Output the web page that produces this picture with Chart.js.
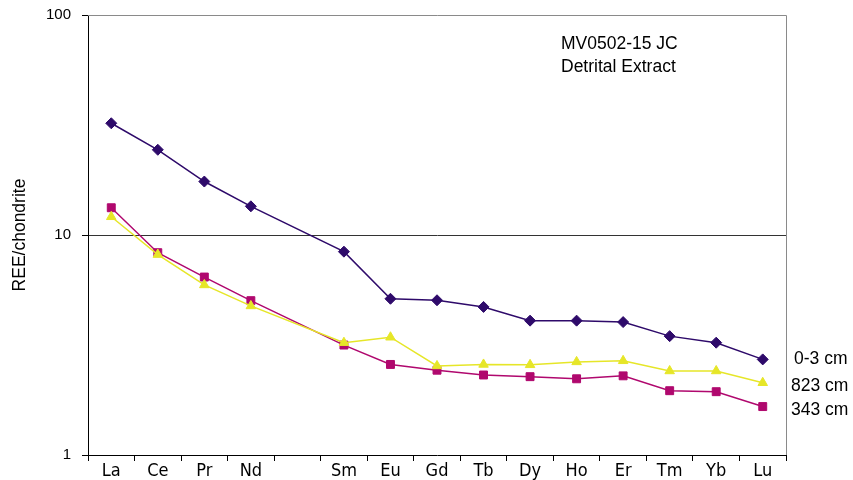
<!DOCTYPE html>
<html>
<head>
<meta charset="utf-8">
<title>MV0502-15 JC Detrital Extract – REE/chondrite</title>
<script src="https://cdn.jsdelivr.net/npm/chart.js@4.4.1/dist/chart.umd.min.js"></script>
<style>
  html, body { margin: 0; padding: 0; background: #ffffff; }
  #wrap { width: 853px; height: 480px; position: relative; }
</style>
</head>
<body>
<div id="wrap"><canvas id="ree" width="853" height="480"></canvas></div>
<script>
// Rare earth elements along the x axis (Pm is left empty)
const elements = ['La', 'Ce', 'Pr', 'Nd', '', 'Sm', 'Eu', 'Gd', 'Tb', 'Dy', 'Ho', 'Er', 'Tm', 'Yb', 'Lu'];

// Chondrite-normalised concentrations for each core depth
const depth0to3cm = [32.2, 24.4, 17.5, 13.5, null, 8.4, 5.13, 5.05, 4.71, 4.08, 4.08, 4.02, 3.47, 3.24, 2.72];
const depth823cm  = [12.1, 8.15, 5.93, 4.76, null, 3.24, 3.43, 2.54, 2.58, 2.57, 2.65, 2.68, 2.41, 2.41, 2.13];
const depth343cm  = [13.3, 8.31, 6.44, 5.03, null, 3.16, 2.58, 2.43, 2.31, 2.27, 2.22, 2.29, 1.96, 1.94, 1.66];

const seriesNames = ['0-3 cm', '823 cm', '343 cm'];
const yTickValues = [1, 10, 100];
const noteLines = ['MV0502-15 JC', 'Detrital Extract'];

const colDeep = '#2e0a6a';
const colYellow = '#e6e628';
const colMagenta = '#b0086e';

const sansFont = '"Liberation Sans", Arial, sans-serif';

// Grey frame on the top and right of the plot, plus the sample note
const framePlugin = {
  id: 'frameAndNotes',
  afterDraw(chart) {
    const { ctx, chartArea: a } = chart;
    ctx.save();
    ctx.strokeStyle = '#8a8a8a';
    ctx.lineWidth = 1;
    ctx.beginPath();
    ctx.moveTo(a.left, a.top + 0.5);
    ctx.lineTo(a.right + 0.5, a.top + 0.5);
    ctx.lineTo(a.right + 0.5, a.bottom);
    ctx.stroke();

    ctx.fillStyle = '#000';
    ctx.font = '17.5px ' + sansFont;
    ctx.textBaseline = 'middle';
    ctx.textAlign = 'left';
    ctx.fillText(noteLines[0], 561, 44);
    ctx.fillText(noteLines[1], 561, 67);

    // series names at the right-hand end of each line
    const offsets = [0, 3, 4];
    const xs = [794, 791, 791];
    chart.data.datasets.forEach((ds, i) => {
      const meta = chart.getDatasetMeta(i);
      const last = meta.data[meta.data.length - 1];
      ctx.fillText(ds.label, xs[i], last.y + offsets[i]);
    });
    ctx.restore();
  }
};

new Chart(document.getElementById('ree'), {
  type: 'line',
  data: {
    labels: elements,
    datasets: [
      {
        label: seriesNames[0], data: depth0to3cm,
        borderColor: colDeep, backgroundColor: colDeep,
        pointStyle: 'rectRot', pointRadius: 5.5, borderWidth: 1.5, pointBorderWidth: 1
      },
      {
        label: seriesNames[1], data: depth823cm,
        borderColor: colYellow, backgroundColor: colYellow,
        pointStyle: 'triangle', pointRadius: 5.5, borderWidth: 1.5, pointBorderWidth: 1
      },
      {
        label: seriesNames[2], data: depth343cm,
        borderColor: colMagenta, backgroundColor: colMagenta,
        pointStyle: 'rect', pointRadius: 5.6, borderWidth: 1.5, pointBorderWidth: 1
      }
    ]
  },
  options: {
    responsive: false,
    animation: false,
    spanGaps: true,
    layout: { padding: { left: 0, top: 15, right: 67, bottom: 0 } },
    plugins: { legend: { display: false }, tooltip: { enabled: false } },
    elements: { line: { tension: 0 } },
    scales: {
      x: {
        type: 'category',
        offset: true,
        afterFit(scale) { scale.height = 25; scale.paddingLeft = 0; scale.paddingRight = 0; },
        grid: {
          offset: true, drawOnChartArea: false, drawTicks: true,
          tickLength: 6, color: '#000', tickColor: '#000'
        },
        border: { color: '#000', width: 1 },
        ticks: {
          padding: 0, color: '#000', autoSkip: false, maxRotation: 0,
          font: { family: '"Liberation Sans Narrow", "DejaVu Sans Condensed", sans-serif', size: 18 }
        }
      },
      y: {
        type: 'logarithmic',
        min: 1, max: 100,
        afterFit(scale) { scale.width = 88; scale.paddingTop = 0; scale.paddingBottom = 0; },
        afterBuildTicks(scale) { scale.ticks = yTickValues.map(v => ({ value: v })); },
        grid: {
          drawTicks: true, tickLength: 6,
          color: ctx => (ctx.tick && ctx.tick.value === 10 ? '#333333' : 'rgba(0,0,0,0)'),
          tickColor: '#000', lineWidth: 1
        },
        border: { color: '#000', width: 1 },
        ticks: {
          padding: 11, color: '#000',
          font: { family: sansFont, size: 15 },
          callback: v => String(v)
        },
        title: {
          display: true, text: 'REE/chondrite', color: '#000',
          padding: { top: 10, bottom: 0 },
          font: { family: sansFont, size: 17.5 }
        }
      }
    }
  },
  plugins: [framePlugin]
});
</script>
</body>
</html>
